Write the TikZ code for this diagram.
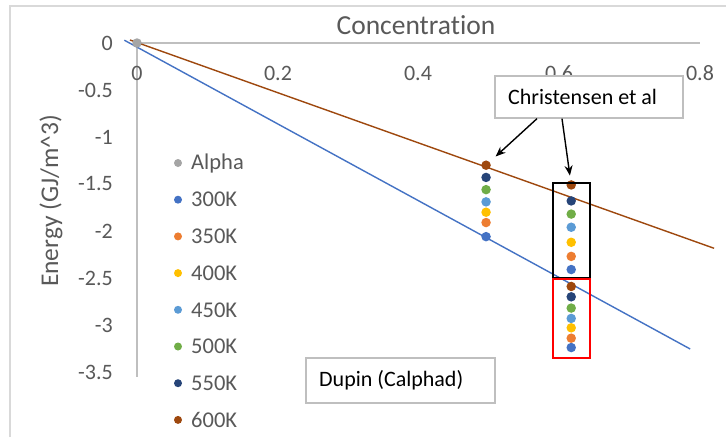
\documentclass[tikz,border=0pt]{standalone}
\usepackage{fontspec}
\setmainfont{Carlito}[Ligatures={NoCommon,NoContextual}]
\usetikzlibrary{arrows.meta}
\definecolor{txtc}{HTML}{595959}
\definecolor{axisc}{HTML}{BFBFBF}
\definecolor{framec}{HTML}{D9D9D9}
\definecolor{cAlpha}{HTML}{A5A5A5}
\definecolor{cA}{HTML}{4472C4}
\definecolor{cB}{HTML}{ED7D31}
\definecolor{cC}{HTML}{FFC000}
\definecolor{cD}{HTML}{5B9BD5}
\definecolor{cE}{HTML}{70AD47}
\definecolor{cF}{HTML}{264478}
\definecolor{cG}{HTML}{9E480E}
\tikzset{
  ticklab/.style={text=txtc, font=\fontsize{22}{26}\selectfont, inner sep=0pt},
  leglab/.style={text=txtc, font=\fontsize{22.5}{26}\selectfont, inner sep=0pt, anchor=west},
  legdot/.style={circle, inner sep=0pt, minimum size=8pt},
  datapt/.style={circle, inner sep=0pt, minimum size=9.5pt},
  notebox/.style={draw=axisc, line width=1.3pt, fill=white, inner sep=0pt},
  notetext/.style={text=black, font=\fontsize{22}{26}\selectfont, inner sep=0pt, anchor=west},
  callout/.style={-{Stealth[length=10pt,width=8pt]}, line width=1.4pt, black}
}
\begin{document}
\begin{tikzpicture}[x=1pt,y=-1pt]
\useasboundingbox (0,0) rectangle (726,437);
\fill[white] (0,0) rectangle (726,437);
% chart frame
\draw[framec, line width=1.3pt] (10,437) -- (10,6) -- (726,6);
% axes
\draw[axisc, line width=1.3pt] (137,43) -- (700,43);
\draw[axisc, line width=1.3pt] (137,43) -- (137,377);
% axis titles
\node[text=txtc, font=\fontsize{27.5}{31}\selectfont, inner sep=0pt] (xtitle) at (416,25) {Concentration};
\node[text=txtc, font=\fontsize{25.5}{30}\selectfont, inner sep=0pt, rotate=90, anchor=center] (ytitle) at (51,201) {Energy (GJ/m\textasciicircum 3)};
% x tick labels
\node[ticklab] (x0) at (137,73) {0};
\node[ticklab] (x2) at (278,73) {0.2};
\node[ticklab] (x4) at (418,73) {0.4};
\node[ticklab] (x6) at (559,73) {0.6};
\node[ticklab] (x8) at (700,73) {0.8};
% y tick labels
\foreach \v/\lab [count=\i] in {0/0,1/-0.5,2/-1,3/-1.5,4/-2,5/-2.5,6/-3,7/-3.5}{
  \node[ticklab, anchor=east] (y\i) at (113,43+47*\v) {\lab};
}
% data region
\begin{scope}[shift={(137,43)}, x=703.75pt, y=94pt]
  \draw[cA, line width=1.4pt] (-0.018,0.03) -- (0.786,-3.255);
  \draw[cG, line width=1.4pt] (-0.01,0.032) -- (0.82,-2.184);
  \node[datapt, fill=cAlpha] (alpha) at (0,0) {};
  % column at 0.5
  \node[datapt, fill=cG] (a600) at (0.496,-1.30) {};
  \node[datapt, fill=cF] (a550) at (0.496,-1.43) {};
  \node[datapt, fill=cE] (a500) at (0.496,-1.56) {};
  \node[datapt, fill=cD] (a450) at (0.496,-1.69) {};
  \node[datapt, fill=cC] (a400) at (0.496,-1.80) {};
  \node[datapt, fill=cB] (a350) at (0.496,-1.91) {};
  \node[datapt, fill=cA] (a300) at (0.496,-2.06) {};
  % column at 0.62, upper group
  \node[datapt, fill=cG] (b600) at (0.617,-1.51) {};
  \node[datapt, fill=cF] (b550) at (0.617,-1.68) {};
  \node[datapt, fill=cE] (b500) at (0.617,-1.82) {};
  \node[datapt, fill=cD] (b450) at (0.617,-1.96) {};
  \node[datapt, fill=cC] (b400) at (0.617,-2.12) {};
  \node[datapt, fill=cB] (b350) at (0.617,-2.27) {};
  \node[datapt, fill=cA] (b300) at (0.617,-2.41) {};
  % lower group
  \node[datapt, fill=cG] (c600) at (0.617,-2.59) {};
  \node[datapt, fill=cF] (c550) at (0.617,-2.70) {};
  \node[datapt, fill=cE] (c500) at (0.617,-2.82) {};
  \node[datapt, fill=cD] (c450) at (0.617,-2.93) {};
  \node[datapt, fill=cC] (c400) at (0.617,-3.03) {};
  \node[datapt, fill=cB] (c350) at (0.617,-3.14) {};
  \node[datapt, fill=cA] (c300) at (0.617,-3.24) {};
\end{scope}
% highlight rectangles
\draw[black, line width=1.5pt] (553,183) rectangle (590,278);
\draw[red, line width=1.5pt] (553,279) rectangle (590,358);
% legend
\foreach \c/\lab [count=\i from 0] in {cAlpha/Alpha,cA/300K,cB/350K,cC/400K,cD/450K,cE/500K,cF/550K,cG/600K}{
  \node[legdot, fill=\c] (ld\i) at (178,163+36.7*\i) {};
  \node[leglab] (ll\i) at (191,163+36.7*\i) {\lab};
}
% annotation boxes
\node[notebox, minimum width=188pt, minimum height=42pt] (chr) at (589,97) {};
\node[notetext] (chrt) at (508,97) {Christensen et al};
\node[notebox, minimum width=189pt, minimum height=45pt] (dup) at (400.5,380.5) {};
\node[notetext] (dupt) at (319,380) {Dupin (Calphad)};
% callout arrows
\draw[callout, shorten >=8pt] ([xshift=-52pt]chr.south) -- (a600);
\draw[callout, shorten >=4.5pt] ([xshift=-27pt]chr.south) -- (b600);
\end{tikzpicture}
\end{document}
